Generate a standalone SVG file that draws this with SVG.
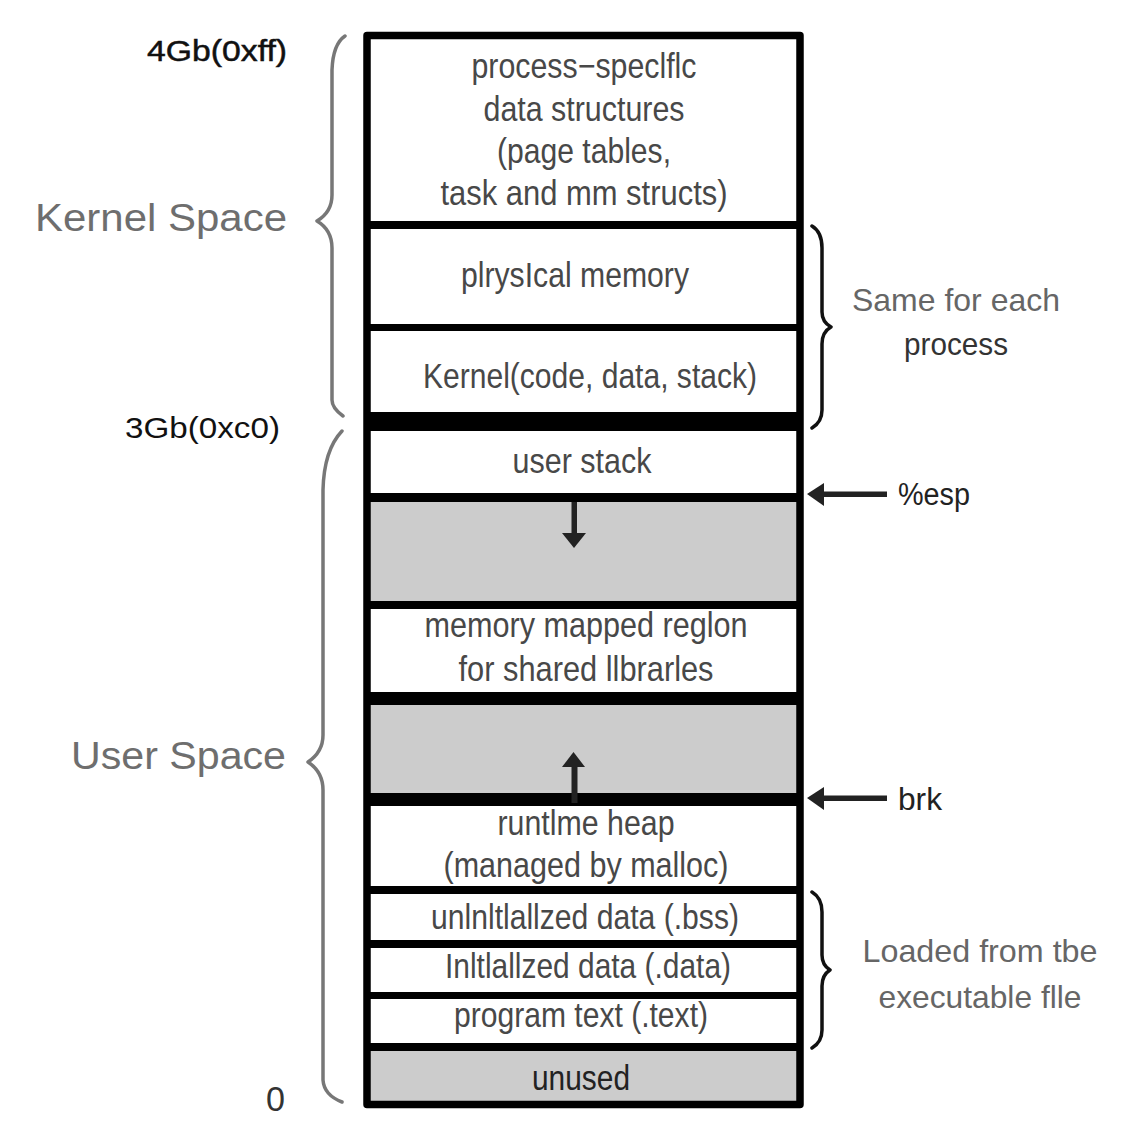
<svg xmlns="http://www.w3.org/2000/svg" width="1127" height="1125" viewBox="0 0 1127 1125">
<defs>
<style>
.t{font-family:"Liberation Sans",Arial,sans-serif;font-size:35px;fill:#484848;text-anchor:middle}
.big{font-family:"Liberation Sans",Arial,sans-serif;font-size:38px;fill:#6e6e6e;text-anchor:end}
.addr{font-family:"Liberation Sans",Arial,sans-serif;font-size:30px;fill:#111;text-anchor:end}
.side{font-family:"Liberation Sans",Arial,sans-serif;font-size:32px;fill:#666;text-anchor:middle}
.ptr{font-family:"Liberation Sans",Arial,sans-serif;font-size:31px;fill:#222}
.sep{fill:#000}
.gray{fill:#cccccc}
.brace-g{fill:none;stroke:#777;stroke-width:3.5;stroke-linecap:round;stroke-linejoin:round}
.brace-k{fill:none;stroke:#111;stroke-width:3.5;stroke-linecap:round;stroke-linejoin:round}
.arr{fill:#222}
</style>
</defs>
<rect width="1127" height="1125" fill="#fff"/>

<g id="gaps">
<rect class="gray" x="367" y="502" width="433" height="99"/>
<rect class="gray" x="367" y="705" width="433" height="88"/>
</g>

<g id="process-specific">
<text class="t" x="584" y="78" textLength="225" lengthAdjust="spacingAndGlyphs">process−speclflc</text>
<text class="t" x="584" y="121" textLength="201" lengthAdjust="spacingAndGlyphs">data structures</text>
<text class="t" x="584" y="163" textLength="174" lengthAdjust="spacingAndGlyphs">(page tables,</text>
<text class="t" x="584" y="205" textLength="287" lengthAdjust="spacingAndGlyphs">task and mm structs)</text>
</g>
<g id="physical-memory">
<text class="t" x="575" y="287" textLength="228" lengthAdjust="spacingAndGlyphs">plrysIcal memory</text>
</g>
<g id="kernel-code">
<text class="t" x="590" y="388" textLength="334" lengthAdjust="spacingAndGlyphs">Kernel(code, data, stack)</text>
</g>
<g id="user-stack">
<text class="t" x="582" y="473" textLength="139" lengthAdjust="spacingAndGlyphs">user stack</text>
</g>
<g id="mmap-region">
<text class="t" x="586" y="637" textLength="323" lengthAdjust="spacingAndGlyphs">memory mapped reglon</text>
<text class="t" x="586" y="681" textLength="255" lengthAdjust="spacingAndGlyphs">for shared llbrarles</text>
</g>
<g id="runtime-heap">
<text class="t" x="586" y="835" textLength="177" lengthAdjust="spacingAndGlyphs">runtlme heap</text>
<text class="t" x="586" y="877" textLength="285" lengthAdjust="spacingAndGlyphs">(managed by malloc)</text>
</g>
<g id="bss">
<text class="t" x="585" y="929" textLength="308" lengthAdjust="spacingAndGlyphs">unlnltlallzed data (.bss)</text>
</g>
<g id="data">
<text class="t" x="588" y="978" textLength="286" lengthAdjust="spacingAndGlyphs">Inltlallzed data (.data)</text>
</g>
<g id="text-seg">
<text class="t" x="581" y="1027" textLength="254" lengthAdjust="spacingAndGlyphs">program text (.text)</text>
</g>
<g id="unused">
<rect class="gray" x="367" y="1051" width="433" height="50"/>
<text class="t" x="581" y="1090" textLength="98" lengthAdjust="spacingAndGlyphs" style="fill:#222">unused</text>
</g>

<g id="memory-column">
<rect class="sep" x="367" y="221" width="433" height="8"/>
<rect class="sep" x="367" y="324" width="433" height="7"/>
<rect class="sep" x="367" y="412" width="433" height="19"/>
<rect class="sep" x="367" y="493" width="433" height="9"/>
<rect class="sep" x="367" y="601" width="433" height="8"/>
<rect class="sep" x="367" y="692" width="433" height="13"/>
<rect class="sep" x="367" y="793" width="433" height="13"/>
<rect class="sep" x="367" y="886" width="433" height="8"/>
<rect class="sep" x="367" y="940" width="433" height="8"/>
<rect class="sep" x="367" y="992" width="433" height="7"/>
<rect class="sep" x="367" y="1043" width="433" height="8"/>
<rect x="367" y="35.5" width="433" height="1069" fill="none" stroke="#000" stroke-width="7.5" stroke-linejoin="round"/>
</g>

<g id="connectors">
<rect class="arr" x="571.5" y="502" width="5.5" height="33"/>
<polygon class="arr" points="562,533 586,533 574,548"/>
<rect class="arr" x="571.5" y="765" width="6" height="38"/>
<polygon class="arr" points="562,767 585,767 573.5,752"/>
<rect class="arr" x="821" y="491.5" width="66" height="5.5"/>
<polygon class="arr" points="807,494 824,483 824,506"/>
<rect class="arr" x="821" y="795.5" width="66" height="5.5"/>
<polygon class="arr" points="807,798 824,787 824,810"/>
</g>

<g id="kernel-brace">
<path class="brace-g" d="M345,36 Q333,44 332,70 L332,195 Q332,212 317,221 Q332,230 332,248 L332,400 Q332,408 343,416"/>
<text class="big" x="287" y="231" textLength="252" lengthAdjust="spacingAndGlyphs">Kernel Space</text>
</g>
<g id="user-brace">
<path class="brace-g" d="M342,431 Q324,450 323,490 L323,735 Q323,752 308,762 Q323,772 323,790 L323,1080 Q324,1095 342,1102"/>
<text class="big" x="286" y="769" textLength="215" lengthAdjust="spacingAndGlyphs">User Space</text>
</g>
<g id="addresses">
<text class="addr" x="287" y="61" textLength="140" lengthAdjust="spacingAndGlyphs" style="stroke:#111;stroke-width:0.5">4Gb(0xff)</text>
<text class="addr" x="280" y="438" textLength="155" lengthAdjust="spacingAndGlyphs">3Gb(0xc0)</text>
<text x="285" y="1111" style="font-family:'Liberation Sans',Arial,sans-serif;font-size:35px;fill:#333;text-anchor:end" textLength="19" lengthAdjust="spacingAndGlyphs">0</text>
</g>
<g id="same-brace">
<path class="brace-k" d="M812,226 Q822,232 822,248 L822,312 Q822,322 831,327 Q822,332 822,344 L822,410 Q822,422 812,428"/>
<text class="side" x="956" y="311" textLength="208" lengthAdjust="spacingAndGlyphs">Same for each</text>
<text class="side" x="956" y="355" textLength="104" lengthAdjust="spacingAndGlyphs" style="fill:#333">process</text>
</g>
<g id="loaded-brace">
<path class="brace-k" d="M812,892 Q822,898 822,912 L822,955 Q822,965 830,970 Q822,975 822,986 L822,1030 Q822,1042 812,1048"/>
<text class="side" x="980" y="962" textLength="235" lengthAdjust="spacingAndGlyphs">Loaded from tbe</text>
<text class="side" x="980" y="1008" textLength="203" lengthAdjust="spacingAndGlyphs">executable flle</text>
</g>
<g id="pointers">
<text class="ptr" x="898" y="505" textLength="72" lengthAdjust="spacingAndGlyphs">%esp</text>
<text class="ptr" x="898" y="810" textLength="44" lengthAdjust="spacingAndGlyphs">brk</text>
</g>
</svg>
